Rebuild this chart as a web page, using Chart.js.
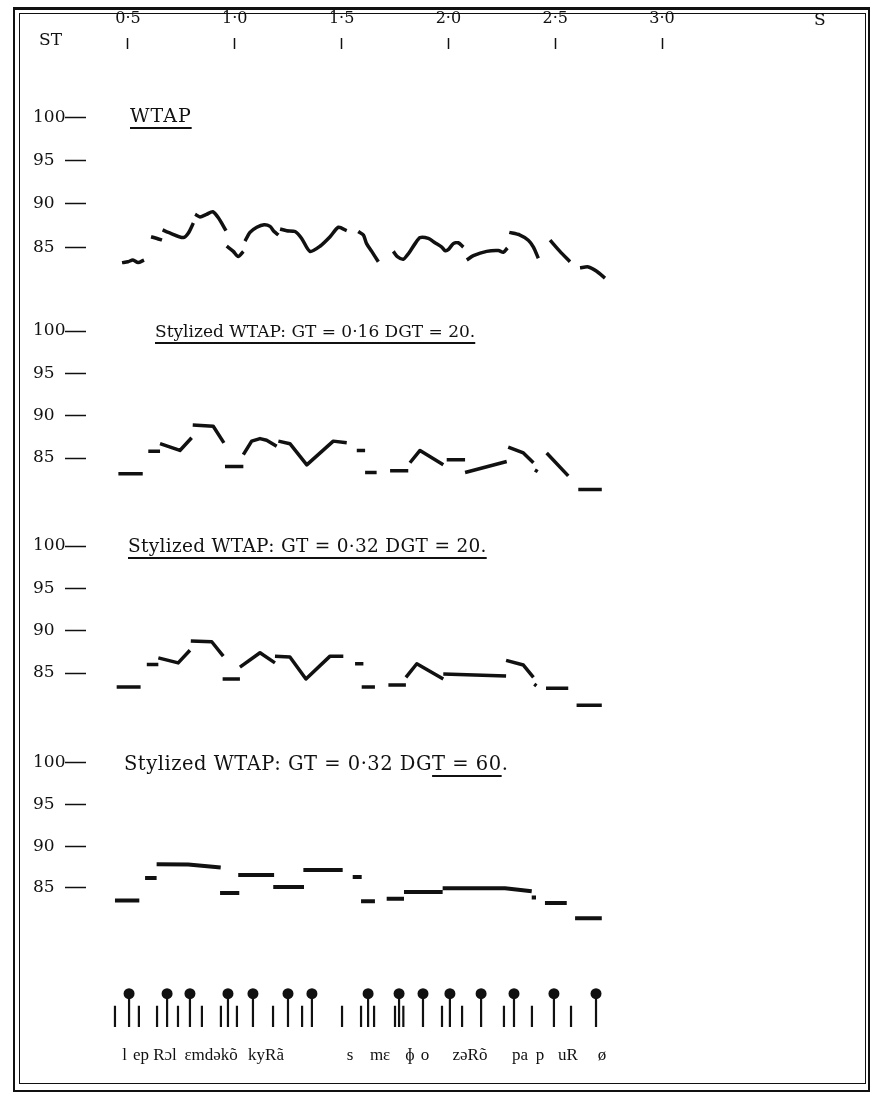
<!DOCTYPE html>
<html>
<head>
<meta charset="utf-8">
<script src="https://cdn.jsdelivr.net/npm/chart.js@4.4.1/dist/chart.umd.min.js"></script>
<style>
  html, body { margin: 0; padding: 0; background: #fff; }
  #wrap { position: relative; width: 879px; height: 1095px; overflow: hidden; }
  #chart { position: absolute; left: 0; top: 0; }
  .frame { position: absolute; border: 2px solid #111; pointer-events: none; }
  .t { position: absolute; font-family: "DejaVu Serif", serif; color: #111; white-space: nowrap; line-height: 20px; font-size: 17px; }
  .t u { text-decoration-thickness: 1.5px; text-underline-offset: 5px; }
</style>
</head>
<body>
<div id="wrap">
  <canvas id="chart" width="879" height="1095"></canvas>
  <div class="frame" style="left:13px; top:7px; width:853px; height:1080px; border-top-width:3px;"></div>
  <div class="frame" style="left:19px; top:13px; width:845px; height:1069px; border-width:1.5px;"></div>
  <div class="t" style="left:39px; top:29px;">ST</div>
  <div class="t" style="left:814px; top:9px;">S</div>
  <div class="t" style="left:130px; top:105px; font-size:19px; letter-spacing:1px;"><u>WTAP</u></div>
  <div class="t" style="left:155px; top:321px;"><u>Stylized WTAP: GT = 0·16 DGT = 20.</u></div>
  <div class="t" style="left:128px; top:536px; font-size:18.5px; letter-spacing:0.3px;"><u>Stylized WTAP: GT = 0·32 DGT = 20.</u></div>
  <div class="t" style="left:124px; top:754px; font-size:19.5px; letter-spacing:0.5px;">Stylized WTAP: GT = 0·32 DG<u>T = 60</u>.</div>
</div>
<script>
const timeTicks = [0.5, 1.0, 1.5, 2.0, 2.5, 3.0];
const pitchTicks = [85, 90, 95, 100];

// [time (s), pitch (ST)], one inner list per voiced stretch
const wtap = [
  [[0.472, 83.2], [0.500, 83.3], [0.523, 83.5], [0.547, 83.2], [0.575, 83.5]],
  [[0.608, 86.2], [0.636, 86.0], [0.659, 85.8]],
  [[0.662, 87.0], [0.689, 86.7], [0.759, 86.1], [0.782, 86.6], [0.806, 87.8]],
  [[0.814, 88.8], [0.837, 88.5], [0.868, 88.8], [0.897, 89.1], [0.923, 88.4], [0.959, 86.9]],
  [[0.962, 85.1], [0.993, 84.5], [1.016, 83.9], [1.040, 84.5]],
  [[1.048, 85.7], [1.071, 86.7], [1.103, 87.3], [1.137, 87.6], [1.165, 87.4], [1.184, 86.8], [1.204, 86.4]],
  [[1.212, 87.1], [1.243, 86.9], [1.282, 86.8], [1.313, 86.0], [1.352, 84.5], [1.399, 85.1], [1.446, 86.2], [1.485, 87.3], [1.524, 86.9]],
  [[1.578, 86.8], [1.602, 86.4], [1.617, 85.4], [1.641, 84.5], [1.672, 83.3]],
  [[1.742, 84.5], [1.761, 83.9], [1.789, 83.6], [1.808, 84.1], [1.820, 84.5], [1.844, 85.4], [1.867, 86.1], [1.906, 86.0],
   [1.937, 85.5], [1.969, 85.0], [1.984, 84.6], [1.999, 84.7], [2.023, 85.4], [2.046, 85.5], [2.070, 85.0]],
  [[2.086, 83.5], [2.117, 84.0], [2.179, 84.5], [2.234, 84.6], [2.257, 84.4], [2.276, 84.9]],
  [[2.285, 86.7], [2.335, 86.4], [2.374, 85.8], [2.398, 85.0], [2.421, 83.7]],
  [[2.476, 85.8], [2.522, 84.5], [2.569, 83.3]],
  [[2.616, 82.6], [2.655, 82.7], [2.694, 82.2], [2.733, 81.4]]
];

const gt16dgt20 = [
  [[0.455, 83.15], [0.569, 83.15]],
  [[0.595, 85.8], [0.650, 85.8]],
  [[0.650, 86.7], [0.743, 85.9], [0.798, 87.4]],
  [[0.803, 88.9], [0.899, 88.75], [0.949, 86.8]],
  [[0.954, 84.0], [1.040, 84.0]],
  [[1.040, 85.4], [1.079, 87.0], [1.118, 87.3], [1.149, 87.1], [1.196, 86.4]],
  [[1.204, 87.0], [1.258, 86.7], [1.337, 84.2], [1.461, 87.0], [1.524, 86.8]],
  [[1.571, 85.9], [1.610, 85.9]],
  [[1.610, 83.3], [1.664, 83.3]],
  [[1.727, 83.5], [1.812, 83.5]],
  [[1.820, 84.45], [1.867, 85.9], [1.976, 84.2]],
  [[1.992, 84.8], [2.078, 84.8]],
  [[2.078, 83.3], [2.273, 84.6]],
  [[2.280, 86.3], [2.351, 85.6], [2.398, 84.45]],
  [[2.405, 83.6], [2.418, 83.4]],
  [[2.460, 85.6], [2.561, 82.9]],
  [[2.608, 81.3], [2.718, 81.3]]
];

const gt32dgt20 = [
  [[0.447, 83.35], [0.559, 83.35]],
  [[0.588, 86.0], [0.642, 86.0]],
  [[0.642, 86.8], [0.735, 86.2], [0.790, 87.7]],
  [[0.794, 88.8], [0.892, 88.7], [0.946, 87.0]],
  [[0.943, 84.3], [1.024, 84.3]],
  [[1.024, 85.7], [1.118, 87.4], [1.188, 86.2]],
  [[1.188, 87.0], [1.258, 86.9], [1.333, 84.3], [1.446, 87.0], [1.508, 87.0]],
  [[1.563, 86.1], [1.602, 86.1]],
  [[1.594, 83.35], [1.656, 83.35]],
  [[1.719, 83.6], [1.801, 83.6]],
  [[1.801, 84.5], [1.852, 86.1], [1.976, 84.3]],
  [[1.976, 84.9], [2.270, 84.65]],
  [[2.270, 86.5], [2.351, 85.95], [2.398, 84.5]],
  [[2.402, 83.7], [2.412, 83.5]],
  [[2.457, 83.2], [2.561, 83.2]],
  [[2.600, 81.2], [2.718, 81.2]]
];

const gt32dgt60 = [
  [[0.439, 83.5], [0.553, 83.5]],
  [[0.580, 86.2], [0.634, 86.2]],
  [[0.634, 87.85], [0.782, 87.8], [0.934, 87.45]],
  [[0.931, 84.4], [1.021, 84.4]],
  [[1.016, 86.55], [1.184, 86.55]],
  [[1.180, 85.1], [1.324, 85.1]],
  [[1.321, 87.15], [1.505, 87.15]],
  [[1.552, 86.3], [1.594, 86.3]],
  [[1.591, 83.4], [1.656, 83.4]],
  [[1.711, 83.7], [1.792, 83.7]],
  [[1.792, 84.5], [1.973, 84.5]],
  [[1.973, 84.95], [2.265, 84.95], [2.390, 84.6]],
  [[2.390, 83.85], [2.410, 83.85]],
  [[2.452, 83.2], [2.554, 83.2]],
  [[2.593, 81.35], [2.718, 81.35]]
];

// segmentation marks along the time axis
const boundaryT = [0.439, 0.551, 0.636, 0.734, 0.846, 0.935, 1.010, 1.179, 1.315, 1.502, 1.591, 1.652,
                   1.750, 1.789, 1.970, 2.064, 2.260, 2.391, 2.574];
const syllableT = [0.505, 0.683, 0.790, 0.968, 1.085, 1.249, 1.361, 1.624, 1.769, 1.881, 2.007, 2.153,
                   2.307, 2.494, 2.691];
const phonemeLabels = ['l', 'ep', 'Rɔl', 'ɛmdəkõ', 'kyRã', 's', 'mɛ', 'ɸ', 'o', 'zəRõ', 'pa', 'p', 'uR', 'ø'];
const phonemeLabelT = [0.484, 0.561, 0.673, 0.889, 1.146, 1.539, 1.680, 1.820, 1.890, 2.101, 2.335, 2.429, 2.560, 2.719];

// mark heights on the bottom strip (0..10)
const stemBase = 0.25, shortTop = 2.0, tallTop = 2.6, knobLevel = 3.0;

function toPoints(segs) {
  const pts = [];
  segs.forEach(seg => {
    seg.forEach(([x, y]) => pts.push({x, y}));
    pts.push({x: seg[seg.length - 1][0], y: null});
  });
  return pts;
}

function toStems(times, top) {
  const pts = [];
  times.forEach(t => {
    pts.push({x: t, y: stemBase}, {x: t, y: top}, {x: t, y: null});
  });
  return pts;
}

const ink = '#111';
const serif = 'DejaVu Serif';

function contour(segs, axis, width, tension) {
  return {
    type: 'line', data: toPoints(segs), yAxisID: axis, xAxisID: 'x',
    borderColor: ink, borderWidth: width, pointRadius: 0, tension: tension,
    borderCapStyle: 'butt', borderJoinStyle: 'round', spanGaps: false, clip: false
  };
}

function panelAxis(min, max, weight) {
  return {
    type: 'linear', position: 'left', stack: 'panels', stackWeight: 215, weight: weight,
    min: min, max: max,
    afterBuildTicks: s => { s.ticks = pitchTicks.map(v => ({value: v})); },
    afterFit: s => { s.width = 53; },
    border: {display: false},
    grid: {drawOnChartArea: false, drawTicks: true, tickLength: 21, tickColor: ink, tickWidth: 1.5},
    ticks: {crossAlign: 'far', color: ink, font: {family: serif, size: 17}, padding: 0}
  };
}

new Chart(document.getElementById('chart'), {
  data: {
    datasets: [
      contour(wtap, 'y1', 3.5, 0.25),
      contour(gt16dgt20, 'y2', 3.5, 0),
      contour(gt32dgt20, 'y3', 3.5, 0),
      contour(gt32dgt60, 'y4', 4, 0),
      {
        type: 'line', data: toStems(boundaryT, shortTop), yAxisID: 'y5', xAxisID: 'x',
        borderColor: ink, borderWidth: 2.2, pointRadius: 0, spanGaps: false
      },
      {
        type: 'line', data: toStems(syllableT, tallTop), yAxisID: 'y5', xAxisID: 'x',
        borderColor: ink, borderWidth: 2.2, pointRadius: 0, spanGaps: false
      },
      {
        type: 'scatter', data: syllableT.map(t => ({x: t, y: knobLevel})), yAxisID: 'y5', xAxisID: 'x',
        pointRadius: 5.5, pointBackgroundColor: ink, pointBorderColor: ink, pointBorderWidth: 0
      }
    ]
  },
  options: {
    responsive: false,
    animation: false,
    devicePixelRatio: 1,
    layout: {padding: {left: 33, right: 29, top: 0, bottom: 0}},
    plugins: {legend: {display: false}, tooltip: {enabled: false}},
    scales: {
      x: {
        type: 'linear', position: 'top', min: 0.3034, max: 3.880,
        afterBuildTicks: s => { s.ticks = timeTicks.map(v => ({value: v})); },
        afterFit: s => { s.height = 49; },
        border: {display: false},
        grid: {drawOnChartArea: false, tickLength: 11, tickColor: ink, tickWidth: 1.5},
        ticks: {
          color: ink, font: {family: serif, size: 16}, padding: 10, maxRotation: 0, autoSkip: false,
          callback: v => v.toFixed(1).replace('.', '·')
        }
      },
      x2: {
        type: 'linear', position: 'bottom', min: 0.3034, max: 3.880,
        afterBuildTicks: s => { s.ticks = phonemeLabelT.map(v => ({value: v})); },
        afterFit: s => { s.height = 65; },
        border: {display: false},
        grid: {display: false, drawTicks: false},
        ticks: {
          color: ink, font: {family: 'Liberation Serif, DejaVu Serif', size: 17}, padding: 15,
          maxRotation: 0, autoSkip: false,
          callback: (v, i) => phonemeLabels[i]
        }
      },
      y1: panelAxis(83.04, 107.96, 5),
      y2: panelAxis(82.53, 107.91, 4),
      y3: panelAxis(82.53, 107.91, 3),
      y4: panelAxis(82.47, 108.28, 2),
      y5: {
        type: 'linear', position: 'left', stack: 'panels', stackWeight: 121, weight: 1,
        min: 0, max: 10,
        afterFit: s => { s.width = 53; },
        border: {display: false},
        grid: {display: false},
        ticks: {display: false}
      }
    }
  }
});
</script>
</body>
</html>
